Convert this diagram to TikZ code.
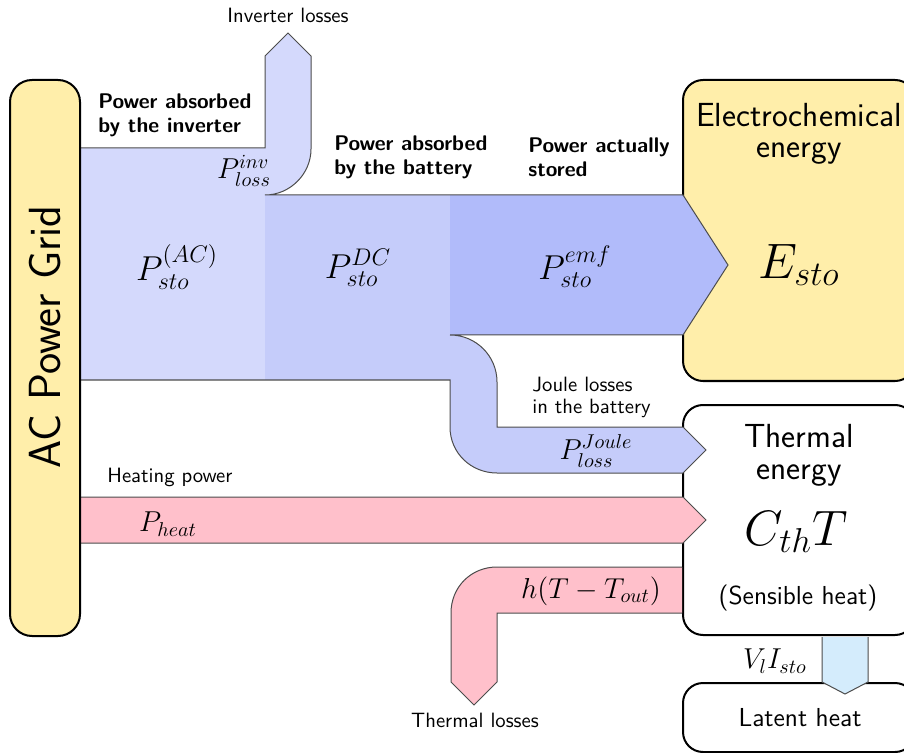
\documentclass[tikz,border=0pt]{standalone}
\usepackage{amsmath}
\usepackage{tikz}
\usetikzlibrary{positioning,calc}
\usepackage{xcolor}

\definecolor{gridyellow}{RGB}{255,238,170}
\definecolor{invblue}{RGB}{212,217,252}
\definecolor{dcblue}{RGB}{197,204,250}
\definecolor{emfblue}{RGB}{177,187,250}
\definecolor{heatpink}{RGB}{255,192,203}
\definecolor{latentblue}{RGB}{212,236,252}

\begin{document}
\begin{tikzpicture}[
    x=0.5pt, y=-0.5pt,
    storebox/.style={rectangle, draw, line width=1pt, rounded corners=10pt, minimum width=116pt, inner sep=0pt},
    flow/.style={draw=black!70, line width=0.5pt},
    lbl/.style={font=\sffamily\fontsize{10.35}{12}\selectfont, align=left, inner sep=0pt},
    head/.style={font=\sffamily\bfseries\fontsize{10.6}{12}\selectfont, align=left, inner sep=0pt, anchor=west},
    boxlbl/.style={font=\sffamily\fontsize{13}{15}\selectfont, inner sep=0pt},
    qty/.style={font=\Large, inner sep=0pt},
    bigqty/.style={font=\fontsize{25}{30}\selectfont, inner sep=0pt},
    title/.style={font=\sffamily\fontsize{16.7}{15.5}\selectfont, align=center, inner sep=0pt}
]
\useasboundingbox (0,0) rectangle (904,753);

% Storage boxes
\node[storebox, fill=gridyellow, minimum height=150.5pt] (elec) at (799,230.5) {};
\node[storebox, fill=white, minimum height=115pt] (therm) at (799,520) {};
\node[storebox, fill=white, minimum height=34.5pt] (latent) at (799,717.5) {};

% Electrical power: inverter, battery, stored
\fill[invblue] (80,148) -- (265,148) -- (265,56) -- (288,33) -- (311,56) -- (311,149)
    .. controls (311,174) and (290,195) .. (265,195) -- (265,380) -- (80,380) -- cycle;
\fill[dcblue] (265,195) -- (450,195) -- (450,335) .. controls (476,335) and (497,356) .. (497,382)
    -- (497,427) -- (683,427) -- (706,450) -- (683,473) -- (497,473)
    .. controls (471,473) and (450,453) .. (450,427) -- (450,380) -- (265,380) -- cycle;
\fill[emfblue] (450,195) -- (683,195) -- (728,265) -- (683,335) -- (450,335) -- cycle;
\draw[flow] (80,148) -- (265,148) -- (265,56) -- (288,33) -- (311,56) -- (311,149)
    .. controls (311,174) and (290,195) .. (265,195) -- (683,195) -- (728,265) -- (683,335)
    -- (450,335) .. controls (476,335) and (497,356) .. (497,382) -- (497,427) -- (683,427)
    -- (706,450) -- (683,473) -- (497,473) .. controls (471,473) and (450,453) .. (450,427)
    -- (450,380) -- (80,380);

% Heat flows
\filldraw[fill=heatpink, flow] (80,497) -- (683,497) -- (706,520) -- (683,543) -- (80,543);
\filldraw[fill=heatpink, flow] (682,567) -- (497,567) .. controls (471,567) and (451,587) .. (451,613)
    -- (451,682) -- (474,705) -- (497,682) -- (497,613) -- (682,613);
\filldraw[fill=latentblue, flow] (822,637) -- (822,682) -- (845,694) -- (868,682) -- (868,637);

% Grid
\node[storebox, fill=gridyellow, minimum width=35pt, minimum height=278pt, rounded corners=11pt] (grid) at (45,358) {};
\node[rotate=90, font=\sffamily\fontsize{22.5}{27}\selectfont, inner sep=0pt] (gridlbl) at (45,337) {AC Power Grid};

% Flow labels
\node[lbl] (invlossname) at (288,15) {Inverter losses};
\node[head] (invhead) at (98,115) {Power absorbed\\by the inverter};
\node[head] (batthead) at (334,157) {Power absorbed\\by the battery};
\node[head] (storedhead) at (528,157) {Power actually\\stored};
\node[qty] (pinvloss) at (244,171) {$P_{loss}^{inv}$};
\node[qty, font=\LARGE] (pac) at (177,267) {$P_{sto}^{(AC)}$};
\node[qty, font=\LARGE] (pdc) at (358,268) {$P_{sto}^{DC}$};
\node[qty, font=\LARGE] (pemf) at (575,267) {$P_{sto}^{emf}$};
\node[lbl, anchor=west, font=\sffamily\fontsize{10.35}{11}\selectfont] (joulename) at (532,397) {Joule losses\\in the battery};
\node[qty] (pjoule) at (596,451) {$P_{loss}^{Joule}$};
\node[lbl, anchor=west] (heatname) at (107,477) {Heating power};
\node[qty] (pheat) at (168,524) {$P_{heat}$};
\node[qty] (hloss) at (591,591) {$h(T-T_{out})$};
\node[lbl] (thlossname) at (475,720) {Thermal losses};
\node[qty] (vli) at (775,661) {$V_l I_{sto}$};

% Box contents
\node[title] (electitle) at (799,134) {Electrochemical\\energy};
\node[bigqty] (esto) at (799,265) {$E_{sto}$};
\node[title, font=\sffamily\fontsize{16.7}{16}\selectfont] (thermtitle) at (799,455) {Thermal\\energy};
\node[bigqty] (cth) at (796,532) {$C_{th}T$};
\node[boxlbl] (sensible) at (798,598) {(Sensible heat)};
\node[boxlbl] (latentlbl) at (800,718) {Latent heat};

\end{tikzpicture}
\end{document}
